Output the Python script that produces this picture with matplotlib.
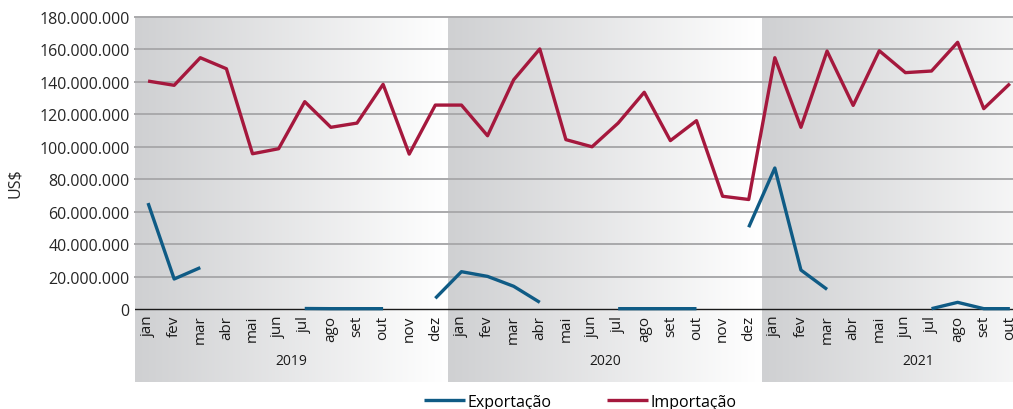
import numpy as np
import matplotlib.pyplot as plt
from matplotlib.colors import LinearSegmentedColormap

plt.rcParams['font.family'] = ['Open Sans', 'DejaVu Sans']

meses = ["jan", "fev", "mar", "abr", "mai", "jun", "jul", "ago", "set", "out", "nov", "dez"]
anos = ["2019", "2020", "2021"]
rotulos = meses * 2 + meses[:10]

# valores em milhões de US$
importacao = [140.5, 137.9, 154.9, 148.1, 95.7, 98.8, 127.8, 112.0, 114.6, 138.5, 95.5, 125.7,
              125.7, 106.8, 141.3, 160.3, 104.4, 100.0, 114.6, 133.6, 103.8, 116.1, 69.5, 67.5,
              154.9, 112.0, 159.0, 125.5, 159.2, 145.7, 146.7, 164.4, 123.5, 138.9]
exportacao = [65.3, 18.5, 25.5, None, None, None, 0.3, 0.2, 0.2, 0.2, None, 6.6,
              23.0, 20.1, 14.0, 4.1, None, None, 0.2, 0.2, 0.2, 0.2, None, 50.4,
              86.9, 24.0, 12.1, None, None, None, 0.2, 4.1, 0.2, 0.2]

M = 1e6
x = np.arange(len(rotulos))
imp = np.array(importacao) * M
exp_ = np.array([np.nan if v is None else v for v in exportacao], dtype=float) * M

fig = plt.figure(figsize=(10.13, 4.10), dpi=100)
ax = fig.add_axes([135/1013, 1 - 383/410, 1 - 135/1013, (383 - 18)/410])

ymin, ymax = -45 * M, 180 * M
xmin, xmax = -0.5, 33.12
ax.set_xlim(xmin, xmax)
ax.set_ylim(ymin, ymax)

cmap = LinearSegmentedColormap.from_list("g", ["#cfd0d2", "#ffffff"])
grad = np.linspace(0, 1, 256).reshape(1, -1)
for i in range(3):
    ax.imshow(grad, cmap=cmap, aspect="auto", extent=[-0.5 + 12*i, 11.5 + 12*i, ymin, ymax],
              zorder=0, interpolation="bicubic")
ax.set_xlim(xmin, xmax)
ax.set_ylim(ymin, ymax)

for v in range(20, 181, 20):
    ax.axhline(v * M, color="#a9a9ab", lw=1.4, zorder=1, clip_on=False)
ax.axhline(0, color="#1a1a1a", lw=1.0, zorder=1)

ax.plot(x, exp_, color="#0f5b85", lw=2.4, label="Exportação", zorder=3, solid_capstyle="butt")
ax.plot(x, imp, color="#a5183d", lw=2.4, label="Importação", zorder=3, solid_capstyle="butt")

for i, r in enumerate(rotulos):
    ax.text(i, -3.5 * M, r, rotation=90, ha="center", va="top", fontsize=11, color="#1a1a1a")
for i, a in enumerate(anos):
    ax.text(5.5 + 12*i, -32 * M, a, ha="center", va="center", fontsize=10, color="#1a1a1a")

ax.set_yticks([v * M for v in range(0, 181, 20)])
ax.set_yticklabels(["0"] + [f"{v}.000.000" for v in range(20, 181, 20)], fontsize=11.5, color="#262626")
ax.tick_params(axis="y", length=0, pad=4)
ax.set_xticks([])
for s in ax.spines.values():
    s.set_visible(False)

fig.text(15/1013, 1 - 183/410, "US$", rotation=90, ha="center", va="center", fontsize=11.5, color="#262626")

fig.legend(loc="center", bbox_to_anchor=(580/1013, 1 - 403/410), ncol=2, frameon=False,
           fontsize=11.5, handlelength=2.6, handletextpad=0.1, columnspacing=3.5)

fig.savefig("out.png", dpi=100)
